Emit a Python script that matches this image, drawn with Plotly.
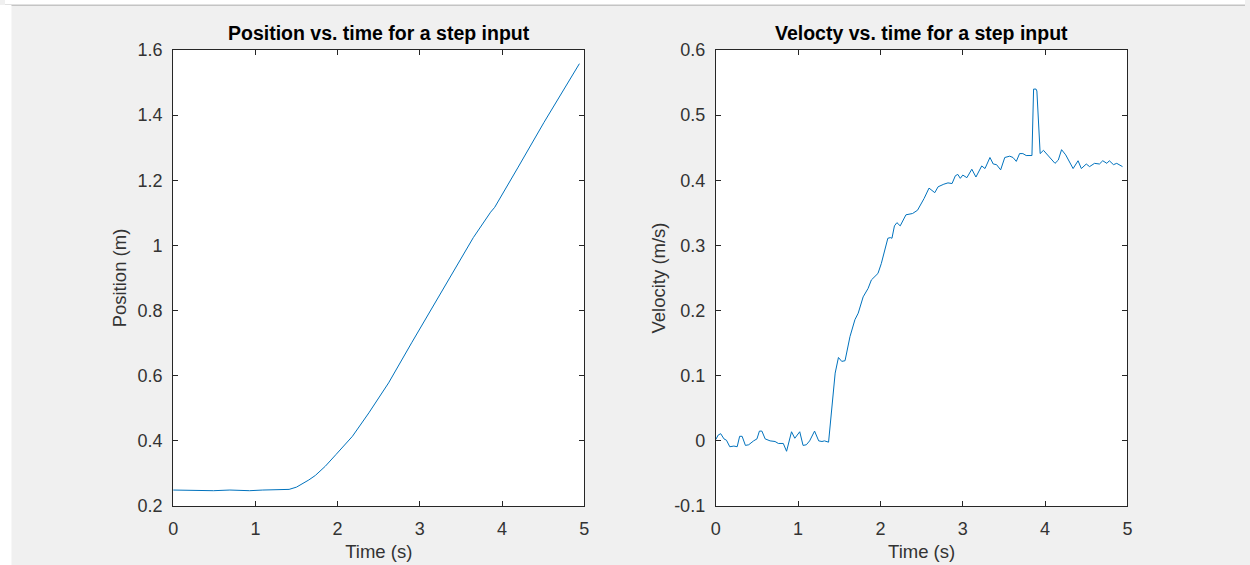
import plotly.graph_objects as go

# ---- data ----
time_pos = [0.0, 0.25, 0.49, 0.69, 0.93, 1.09, 1.25, 1.41, 1.50, 1.57, 1.65, 1.73, 1.85, 1.98,
            2.18, 2.38, 2.62, 2.90, 3.18, 3.43, 3.65, 3.86, 3.91, 4.19, 4.51, 4.94]
position = [0.249, 0.248, 0.247, 0.249, 0.247, 0.249, 0.249, 0.251, 0.258, 0.268, 0.280, 0.294,
            0.322, 0.358, 0.414, 0.486, 0.578, 0.701, 0.822, 0.928, 1.024, 1.102, 1.117,
            1.238, 1.378, 1.558]

time_vel = [0.00, 0.03, 0.06, 0.10, 0.13, 0.17, 0.22, 0.26, 0.29, 0.32, 0.36, 0.40, 0.46, 0.50,
            0.53, 0.56, 0.60, 0.66, 0.72, 0.76, 0.82, 0.86, 0.92, 0.96, 1.02, 1.06, 1.10, 1.14,
            1.20, 1.25, 1.29, 1.32, 1.37, 1.41, 1.45, 1.49, 1.53, 1.57, 1.63, 1.69, 1.73, 1.79,
            1.85, 1.89, 1.97, 2.01, 2.09, 2.12, 2.14, 2.17, 2.20, 2.24, 2.31, 2.39, 2.45, 2.53,
            2.59, 2.66, 2.70, 2.77, 2.82, 2.87, 2.91, 2.94, 2.97, 3.00, 3.05, 3.11, 3.16, 3.23,
            3.27, 3.33, 3.37, 3.41, 3.46, 3.51, 3.57, 3.61, 3.65, 3.69, 3.73, 3.77, 3.84, 3.86,
            3.89, 3.90, 3.94, 3.98, 4.04, 4.12, 4.16, 4.20, 4.25, 4.30, 4.34, 4.40, 4.44, 4.50,
            4.54, 4.60, 4.66, 4.70, 4.75, 4.78, 4.83, 4.87, 4.94]
velocity = [0.002, 0.009, 0.011, 0.003, 0.001, -0.009, -0.008, -0.009, 0.007, 0.007, -0.007,
            -0.006, 0.000, 0.003, 0.015, 0.015, 0.003, 0.000, -0.001, -0.004, -0.004, -0.016,
            0.014, 0.004, 0.014, -0.007, -0.006, 0.000, 0.015, 0.000, -0.001, 0.000, -0.002,
            0.048, 0.104, 0.128, 0.122, 0.123, 0.160, 0.186, 0.196, 0.221, 0.234, 0.247, 0.257,
            0.272, 0.311, 0.312, 0.311, 0.330, 0.335, 0.330, 0.347, 0.349, 0.354, 0.372, 0.388,
            0.381, 0.390, 0.394, 0.396, 0.395, 0.407, 0.409, 0.403, 0.408, 0.404, 0.417, 0.405,
            0.422, 0.418, 0.435, 0.425, 0.424, 0.416, 0.435, 0.437, 0.435, 0.429, 0.441, 0.441,
            0.438, 0.438, 0.540, 0.540, 0.537, 0.441, 0.446, 0.438, 0.426, 0.431, 0.447, 0.439,
            0.428, 0.418, 0.430, 0.418, 0.425, 0.421, 0.426, 0.425, 0.430, 0.426, 0.430, 0.424,
            0.426, 0.421]

pos_ticks = [0.2, 0.4, 0.6, 0.8, 1.0, 1.2, 1.4, 1.6]
pos_ticklabels = ["0.2", "0.4", "0.6", "0.8", "1", "1.2", "1.4", "1.6"]
vel_ticks = [-0.1, 0, 0.1, 0.2, 0.3, 0.4, 0.5, 0.6]
vel_ticklabels = ["-0.1", "0", "0.1", "0.2", "0.3", "0.4", "0.5", "0.6"]
time_ticks = [0, 1, 2, 3, 4, 5]

FONT = "Liberation Sans, Arial, Helvetica, sans-serif"
DARK = "#262626"
TXT = "#333333"
BLUE = "#0072BD"
W, H = 1250, 565
T, B = 50, 506.5

fig = go.Figure()
fig.add_trace(go.Scatter(x=time_pos, y=position, mode="lines", line=dict(color=BLUE, width=1),
                         xaxis="x", yaxis="y", showlegend=False, hoverinfo="x+y"))
fig.add_trace(go.Scatter(x=time_vel, y=velocity, mode="lines", line=dict(color=BLUE, width=1),
                         xaxis="x2", yaxis="y2", showlegend=False, hoverinfo="x+y"))

axis_common = dict(showgrid=False, zeroline=False, showline=True, linecolor=DARK, linewidth=1,
                   mirror="ticks", ticks="inside", ticklen=5, tickcolor=DARK, tickwidth=1,
                   ticklabelstandoff=6,
                   tickfont=dict(family=FONT, size=18, color=TXT))

d1 = [169.5 / W, 584 / W]
d2 = [716.5 / W, 1131.5 / W]

fig.update_layout(
    width=W, height=H,
    margin=dict(l=0, r=0, t=T, b=H - B),
    paper_bgcolor="#f0f0f0", plot_bgcolor="white",
    font=dict(family=FONT, color=TXT),
    xaxis=dict(domain=d1, range=[0, 5], tickvals=time_ticks, anchor="y",
               title=dict(text="Time (s)", font=dict(size=18.5, color=TXT), standoff=7),
               **axis_common),
    yaxis=dict(domain=[0, 1], range=[0.2, 1.6], tickvals=pos_ticks, ticktext=pos_ticklabels,
               anchor="x",
               title=dict(text="Position (m)", font=dict(size=18.5, color=TXT), standoff=6),
               **axis_common),
    xaxis2=dict(domain=d2, range=[0, 5], tickvals=time_ticks, anchor="y2",
                title=dict(text="Time (s)", font=dict(size=18.5, color=TXT), standoff=7),
                **axis_common),
    yaxis2=dict(domain=[0, 1], range=[-0.1, 0.6], tickvals=vel_ticks, ticktext=vel_ticklabels,
                anchor="x2",
                title=dict(text="Velocity (m/s)", font=dict(size=18.5, color=TXT), standoff=3),
                **axis_common),
)

def py(p):
    return (B - p) / (B - T)

fig.add_annotation(text="<b>Position vs. time for a step input</b>", xref="paper", yref="paper",
                   x=(d1[0] + d1[1]) / 2, y=py(46), xanchor="center", yanchor="bottom",
                   showarrow=False, font=dict(family=FONT, size=19.5, color="black"))
fig.add_annotation(text="<b>Velocty vs. time for a step input</b>", xref="paper", yref="paper",
                   x=(d2[0] + d2[1]) / 2, y=py(46), xanchor="center", yanchor="bottom",
                   showarrow=False, font=dict(family=FONT, size=19.5, color="black"))

# window frame decoration
fig.add_shape(type="rect", xref="paper", yref="paper", x0=0, x1=1, y0=py(5), y1=py(-2),
              fillcolor="white", line=dict(width=0), layer="above")
fig.add_shape(type="line", xref="paper", yref="paper", x0=0, x1=1, y0=py(5.3), y1=py(5.3),
              line=dict(color="#c4c4c4", width=1.5), layer="above")
fig.add_shape(type="rect", xref="paper", yref="paper", x0=-0.01, x1=6.5 / W, y0=py(H + 2), y1=py(5),
              fillcolor="white", line=dict(width=0), layer="above")

fig.write_html("out.html")
